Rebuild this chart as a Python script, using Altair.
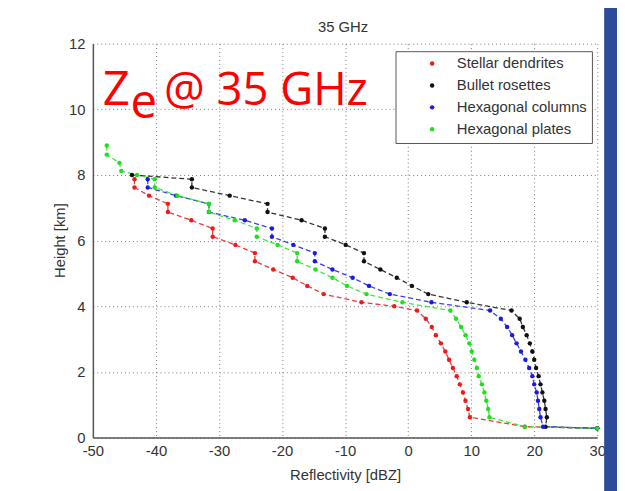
import altair as alt
import pandas as pd

# ---------------- data ----------------
series_names = ["Stellar dendrites", "Bullet rosettes", "Hexagonal columns", "Hexagonal plates"]
series_colors = ["#f01818", "#111111", "#1a1ae6", "#1ee01e"]

x_ticks = [-50, -40, -30, -20, -10, 0, 10, 20, 30]
y_ticks = [0, 2, 4, 6, 8, 10, 12]

sd_x = [-43.4, -43.4, -41.1, -38.1, -38.1, -34.4, -31.0, -31.0, -27.4, -24.3, -24.3, -21.4,
        -18.3, -16.0, -13.4, -7.4, -2.2, 1.4, 2.8, 3.75, 4.4, 5.2, 5.9, 6.5, 7.1, 7.7, 8.2,
        8.7, 9.1, 9.5, 9.8, 18.5, 30.0]
sd_y = [7.87, 7.62, 7.37, 7.12, 6.87, 6.62, 6.37, 6.12, 5.87, 5.62, 5.37, 5.12, 4.87, 4.62,
        4.37, 4.12, 4.0, 3.87, 3.62, 3.37, 3.12, 2.87, 2.62, 2.37, 2.12, 1.87, 1.62, 1.37,
        1.12, 0.87, 0.62, 0.33, 0.28]

br_x = [-43.8, -34.3, -34.3, -28.3, -22.3, -22.3, -16.9, -13.2, -13.2, -9.9, -7.0, -7.0,
        -4.4, -1.8, 0.6, 3.2, 9.3, 16.4, 17.7, 18.2, 18.8, 19.3, 19.7, 20.0, 20.3, 20.7,
        21.0, 21.3, 21.6, 21.8, 22.0, 21.8, 30.0]
br_y = [8.0, 7.87, 7.62, 7.37, 7.12, 6.87, 6.62, 6.37, 6.12, 5.87, 5.62, 5.37, 5.12, 4.87,
        4.62, 4.37, 4.12, 3.87, 3.62, 3.37, 3.12, 2.87, 2.62, 2.37, 2.12, 1.87, 1.62, 1.37,
        1.12, 0.87, 0.62, 0.33, 0.28]

hc_x = [-41.3, -41.3, -36.8, -31.6, -31.6, -25.9, -21.6, -21.6, -18.2, -14.8, -14.8, -12.0,
        -8.8, -6.2, -2.9, 3.7, 13.0, 14.7, 15.7, 16.5, 17.2, 17.9, 18.6, 19.2, 19.7, 20.0,
        20.4, 20.6, 20.8, 21.0, 21.4, 30.0]
hc_y = [7.87, 7.62, 7.37, 7.12, 6.87, 6.62, 6.37, 6.12, 5.87, 5.62, 5.37, 5.12, 4.87, 4.62,
        4.37, 4.12, 3.87, 3.62, 3.37, 3.12, 2.87, 2.62, 2.37, 2.12, 1.87, 1.62, 1.37, 1.12,
        0.87, 0.62, 0.33, 0.28]

hp_x = [-47.8, -47.8, -45.8, -45.5, -43.0, -40.2, -40.2, -36.6, -31.6, -31.6, -27.5, -24.0,
        -24.0, -20.7, -17.6, -17.6, -14.7, -12.0, -9.7, -6.6, -0.9, 6.7, 7.6, 8.4, 9.1, 9.7,
        10.1, 10.5, 10.9, 11.2, 11.7, 12.1, 12.4, 12.7, 12.9, 18.5, 30.0]
hp_y = [8.9, 8.62, 8.37, 8.12, 8.0, 7.87, 7.62, 7.37, 7.12, 6.87, 6.62, 6.37, 6.12, 5.87,
        5.62, 5.37, 5.12, 4.87, 4.62, 4.37, 4.12, 3.87, 3.62, 3.37, 3.12, 2.87, 2.62, 2.37,
        2.12, 1.87, 1.62, 1.37, 1.12, 0.87, 0.62, 0.33, 0.28]

chart_title = "35 GHz"
# overlay caption "Z_e @ 35 GHz": main letter, subscript, rest
overlay_parts = ["Z", "e", "@ 35 GHz"]

# ---------------- table ----------------
rows = []
for name, xs, ys in zip(series_names, [sd_x, br_x, hc_x, hp_x], [sd_y, br_y, hc_y, hp_y]):
    for i, (xv, yv) in enumerate(zip(xs, ys)):
        rows.append({"type": name, "x": xv, "y": yv, "i": i})
df = pd.DataFrame(rows)

FONT = "Liberation Sans"
BIGFONT = "Open Sans"
TXT = "#333333"

x_enc = alt.X("x:Q", scale=alt.Scale(domain=[-50, 30], nice=False, zero=False),
              axis=alt.Axis(values=x_ticks, title="Reflectivity [dBZ]", labelPadding=6,
                            titlePadding=10, labelFlush=False,
                            labelExpr="datum.value < 0 ? '-' + abs(datum.value) : '' + datum.value"))
y_enc = alt.Y("y:Q", scale=alt.Scale(domain=[0, 12], nice=False, zero=False),
              axis=alt.Axis(values=y_ticks, title="Height [km]", labelPadding=8,
                            titleX=-34, titleY=199, titleAngle=270, titleAlign="center",
                            titleBaseline="middle", labelFlush=False))

base = alt.Chart(df)
# stroke scale listed in reverse order so that its (hidden) legend is not merged with the colour legend
lines = base.mark_line(strokeDash=[5, 3], strokeWidth=1.3, opacity=0.85).encode(
    x=x_enc, y=y_enc, order=alt.Order("i:Q"),
    stroke=alt.Stroke("type:N", scale=alt.Scale(domain=series_names[::-1], range=series_colors[::-1]),
                      legend=None),
)
points = base.mark_circle(size=20, opacity=1).encode(
    x=x_enc, y=y_enc,
    color=alt.Color("type:N", scale=alt.Scale(domain=series_names, range=series_colors),
                    legend=alt.Legend(title=None, orient="none", legendX=306.6, legendY=7.6,
                                      fillColor="white", strokeColor="#555555", padding=5,
                                      symbolOffset=24.6, labelOffset=17.5, rowPadding=6.2,
                                      symbolSize=20, symbolType="circle",
                                      labelFont=FONT, labelFontSize=15, labelColor=TXT)),
)

# blue slide frame strip on the right
strip = alt.Chart(pd.DataFrame({"a": [0]})).mark_rect(color="#2d4b9b").encode(
    x=alt.value(518), x2=alt.value(560), y=alt.value(-45), y2=alt.value(470))

title_mark = alt.Chart(pd.DataFrame({"t": [chart_title]})).mark_text(
    font=FONT, fontSize=15, color=TXT, align="center", baseline="alphabetic"
).encode(x=alt.value(253.5), y=alt.value(-12), text="t:N")


def big(txt, xp, yp, size):
    return alt.Chart(pd.DataFrame({"t": [txt]})).mark_text(
        font=BIGFONT, fontSize=size, color="#ff0000", align="left", baseline="alphabetic"
    ).encode(x=alt.value(xp), y=alt.value(yp), text="t:N")


caption_x = [10, 38, 72]
caption_y = [62.6, 75.5, 62.6]
caption_size = [48, 48, 46]
caption = [big(t, cx, cy, s) for t, cx, cy, s in zip(overlay_parts, caption_x, caption_y, caption_size)]

chart = alt.layer(
    strip, lines, points, title_mark, *caption,
).properties(
    width=511, height=399,
    padding={"left": 86, "top": 33, "right": 20, "bottom": 51},
    autosize=alt.AutoSizeParams(type="none"),
    background="white",
).configure_view(stroke=None).configure_axis(
    grid=True, gridDash=[1, 3], gridColor="#777777", gridWidth=1, ticks=False,
    domainColor="#555555", domainWidth=1.5, labelOverlap=False,
    labelFont=FONT, labelFontSize=15, labelColor=TXT,
    titleFont=FONT, titleFontSize=15, titleFontWeight="normal", titleColor=TXT,
)

chart.save("out.html", embed_options={"renderer": "svg", "actions": False})
